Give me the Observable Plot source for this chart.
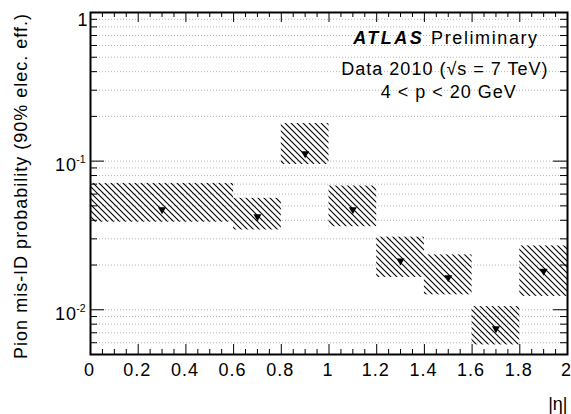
<!DOCTYPE html>
<html>
<head>
<meta charset="utf-8">
<script src="https://cdn.jsdelivr.net/npm/d3@7"></script>
<script src="https://cdn.jsdelivr.net/npm/@observablehq/plot@0.6"></script>
<style>
  html, body { margin: 0; padding: 0; background: #fff; }
</style>
</head>
<body>
<div id="chart"></div>
<script>
// ---- data ----
const binLow    = [0.0, 0.6, 0.8, 1.0, 1.2, 1.4, 1.6, 1.8];
const binHigh   = [0.6, 0.8, 1.0, 1.2, 1.4, 1.6, 1.8, 2.0];
const binCenter = [0.3, 0.7, 0.9, 1.1, 1.3, 1.5, 1.7, 1.9];
const misId     = [0.048, 0.043, 0.114, 0.048, 0.0217, 0.0167, 0.0076, 0.0185];
const misIdUp   = [0.0708, 0.0562, 0.179, 0.068, 0.0308, 0.0234, 0.0105, 0.0269];
const misIdDown = [0.0388, 0.0344, 0.095, 0.0362, 0.0165, 0.0126, 0.0058, 0.0123];

const xTickValues = [0, 0.2, 0.4, 0.6, 0.8, 1.0, 1.2, 1.4, 1.6, 1.8, 2.0];
const xTickLabels = ["0", "0.2", "0.4", "0.6", "0.8", "1", "1.2", "1.4", "1.6", "1.8", "2"];
const yMajorValues = [1, 0.1, 0.01];
const yMantissa = ["1", "10", "10"];
const yExponent = ["", "-1", "-2"];
const yMinorValues = [0.006, 0.007, 0.008, 0.009, 0.02, 0.03, 0.04, 0.05, 0.06, 0.07, 0.08, 0.09,
                      0.2, 0.3, 0.4, 0.5, 0.6, 0.7, 0.8, 0.9];
const yTitle = "Pion mis-ID probability (90% elec. eff.)";
const xTitle = "|η|";
const legendBold = "ATLAS";
const legendLines = ["Preliminary", "Data 2010 (√s = 7 TeV)", "4 < p < 20 GeV"];

// ---- layout ----
const W = 571, H = 414, mL = 90, mR = 4, mT = 12, mB = 60;
const fw = W - mL - mR, fh = H - mT - mB;
const font = "'Liberation Sans', Arial, Helvetica, sans-serif";

const bins = binCenter.map((c, i) => ({lo: binLow[i], hi: binHigh[i], c, v: misId[i], up: misIdUp[i], dn: misIdDown[i]}));
const xMinor = d3.range(0, 2.0001, 0.05).filter(v => !xTickValues.some(t => Math.abs(t - v) < 1e-6));
const yLabels = yMajorValues.map((v, i) => ({v, m: yMantissa[i], e: yExponent[i]}));

const plot = Plot.plot({
  width: W, height: H,
  marginLeft: mL, marginRight: mR, marginTop: mT, marginBottom: mB,
  style: {fontFamily: font, fontSize: "18px", background: "white", color: "black", overflow: "visible"},
  x: {domain: [0, 2], axis: null},
  y: {type: "log", domain: [0.005, 1], axis: null},
  marks: [
    Plot.ruleY([...yMinorValues, 0.01, 0.1], {stroke: "#b4b4b4", strokeDasharray: "1,2", strokeWidth: 1}),
    Plot.rect(bins, {x1: "lo", x2: "hi", y1: "dn", y2: "up", fill: "url(#hatch)"}),
    Plot.dot(bins, {x: "c", y: "v", symbol: "triangle", rotate: 180, r: 3, fill: "black", stroke: "none", dy: 1}),
    // inward ticks on all four sides
    Plot.tickX(xTickValues, {x: d => d, insetTop: fh - 10, stroke: "black"}),
    Plot.tickX(xTickValues, {x: d => d, insetBottom: fh - 10, stroke: "black"}),
    Plot.tickX(xMinor, {x: d => d, insetTop: fh - 5, stroke: "black"}),
    Plot.tickX(xMinor, {x: d => d, insetBottom: fh - 5, stroke: "black"}),
    Plot.tickY(yMajorValues, {y: d => d, insetRight: fw - 14, stroke: "black"}),
    Plot.tickY(yMajorValues, {y: d => d, insetLeft: fw - 14, stroke: "black"}),
    Plot.tickY(yMinorValues, {y: d => d, insetRight: fw - 7, stroke: "black"}),
    Plot.tickY(yMinorValues, {y: d => d, insetLeft: fw - 7, stroke: "black"}),
    Plot.frame({stroke: "black", strokeWidth: 2}),
    // x tick labels
    Plot.text(xTickValues, {x: d => d, text: (d, i) => xTickLabels[i], frameAnchor: "bottom",
      textAnchor: "middle", lineAnchor: "bottom", dx: -1, dy: 21, fontSize: 18}),
    // y tick labels
    Plot.text(yLabels.filter(d => !d.e), {y: "v", text: "m", frameAnchor: "left",
      textAnchor: "end", lineAnchor: "bottom", dx: -2, dy: 13.7, fontSize: 18}),
    Plot.text(yLabels.filter(d => d.e), {y: "v", text: "m", frameAnchor: "left",
      textAnchor: "end", lineAnchor: "bottom", dx: -13.5, dy: 10, fontSize: 18}),
    Plot.text(yLabels.filter(d => d.e), {y: "v", text: "e", frameAnchor: "left",
      textAnchor: "start", lineAnchor: "bottom", dx: -14.3, dy: 2, fontSize: 10.5}),
    // axis titles
    Plot.text([yTitle], {frameAnchor: "left", rotate: -90, textAnchor: "middle", lineAnchor: "bottom",
      dx: -63.3, dy: 2.5, fontSize: 18}),
    Plot.text([xTitle], {frameAnchor: "bottom-right", textAnchor: "end", lineAnchor: "bottom",
      dy: 55.5, dx: 0, fontSize: 18}),
    // legend text
    Plot.text([legendBold], {x: 1.1015, frameAnchor: "top", textAnchor: "start", lineAnchor: "bottom",
      dy: 31.3, fontSize: 18, fontWeight: "bold", fontStyle: "italic"}),
    Plot.text([legendLines[0]], {x: 1.428, frameAnchor: "top", textAnchor: "start", lineAnchor: "bottom",
      dy: 31.3, fontSize: 18}),
    Plot.text([legendLines[1]], {x: 1.486, frameAnchor: "top", textAnchor: "middle", lineAnchor: "bottom",
      dy: 62.7, fontSize: 18}),
    Plot.text([legendLines[2]], {x: 1.502, frameAnchor: "top", textAnchor: "middle", lineAnchor: "bottom",
      dy: 85.7, fontSize: 18})
  ]
});

const svgEl = plot.tagName.toLowerCase() === "svg" ? plot : plot.querySelector("svg");
const svg = d3.select(svgEl);
const defs = svg.insert("defs", ":first-child");
const pat = defs.append("pattern").attr("id", "hatch").attr("patternUnits", "userSpaceOnUse")
  .attr("width", 6).attr("height", 6);
pat.append("path").attr("d", "M0,0L6,6M-1,5L1,7M5,-1L7,1")
  .attr("stroke", "#000").attr("stroke-width", 1.1).attr("fill", "none");

// ROOT-like wide glyph spacing
svg.selectAll("text").each(function() {
  const t = this.textContent;
  let ls = "1px";
  if (yExponent.includes(t) && t !== "") ls = "0px";
  if (t === legendBold) ls = "2.5px";
  if (t === legendLines[0]) ls = "1.6px";
  if (t === xTitle) ls = "0px";
  d3.select(this).attr("letter-spacing", ls);
});

document.getElementById("chart").appendChild(plot);
</script>
</body>
</html>
